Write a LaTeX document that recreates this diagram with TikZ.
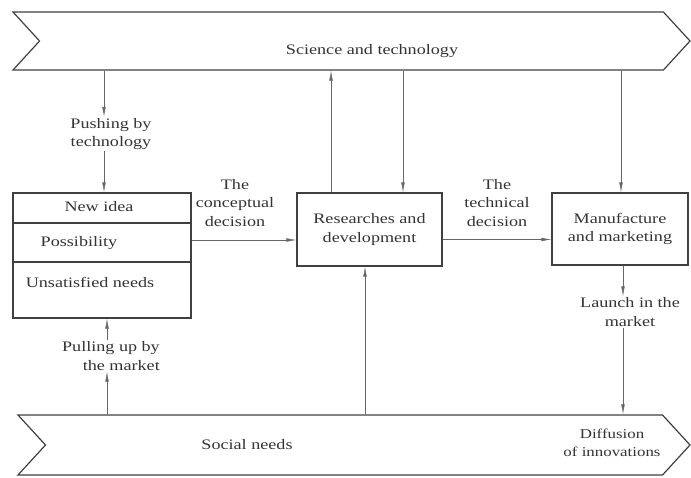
\documentclass[tikz,border=0pt]{standalone}
\usepackage{fontspec}
\setmainfont[FakeStretch=1.25]{Liberation Serif}
\usetikzlibrary{arrows.meta,shapes.symbols}

\tikzset{
  banner/.style={draw=black!75, line width=1.2pt, signal, signal from=west,
    signal to=east, signal pointer angle=95, inner sep=0pt},
  box/.style={draw=black!75, line width=1.1pt, inner sep=0pt},
  lbl/.style={text=black!80, font=\fontsize{14.5}{18.5}\selectfont,
    align=center, inner sep=1pt},
  conn/.style={draw=black!60, line width=0.6pt,
    -{Latex[length=10pt,width=3.6pt]}},
}

\begin{document}
\begin{tikzpicture}[x=1pt,y=-1pt]
    \useasboundingbox (0,0) rectangle (691,477);

    % Banners
    \node[banner, minimum width=677, minimum height=58] (sci) at (351.5,41) {};
    \node[banner, minimum width=672, minimum height=60] (soc) at (354,445) {};
    \node[lbl] (scitxt) at (372,51) {Science and technology};
    \node[lbl] (soctxt) at (247,445) {Social needs};
    \node[lbl, font=\fontsize{13.5}{18.5}\selectfont] (diff) at (612,443) {Diffusion\\of innovations};

    % Boxes
    \node[box, minimum width=178, minimum height=125] (ideas) at (102,255.5) {};
    \draw[box] (ideas.west |- 0,223) -- (ideas.east |- 0,223);
    \draw[box] (ideas.west |- 0,262) -- (ideas.east |- 0,262);
    \node[lbl] (newidea) at (99,207) {New idea};
    \node[lbl] (possib) at (79,243) {Possibility};
    \node[lbl] (unsat) at (90,282) {Unsatisfied needs};

    \node[box, lbl, draw=black!75, minimum width=145, minimum height=73] (rd)
        at (369.5,229.5) {Researches and\\development};
    \node[box, lbl, draw=black!75, minimum width=136, minimum height=72] (mfg)
        at (620,229) {Manufacture\\and marketing};

    % Labels on the arrows
    \node[lbl] (push) at (111,134) {Pushing by\\technology};
    \node[lbl, align=right, anchor=east] (pull) at (161,356) {Pulling up by\\the market};
    \node[lbl] (concept) at (235,203) {The\\conceptual\\decision};
    \node[lbl] (techdec) at (497,203) {The\\technical\\decision};
    \node[lbl] (launch) at (630,312) {Launch in the\\market};

    % Connectors
    \draw[conn] ([xshift=2pt]ideas.north |- sci.south) -- ([xshift=2pt]ideas.north |- push.north);
    \draw[conn] ([xshift=2pt]ideas.north |- push.south) -- ([xshift=2pt]ideas.north);
    \draw[conn] ([xshift=-38.5pt]rd.north) -- ([xshift=-38.5pt]rd.north |- sci.south);
    \draw[conn] ([xshift=33.5pt]rd.north |- sci.south) -- ([xshift=33.5pt]rd.north);
    \draw[conn] ([xshift=1pt]mfg.north |- sci.south) -- ([xshift=1pt]mfg.north);

    \path ([yshift=-10.5pt]rd.west) coordinate (rdin);
    \draw[conn] (ideas.east |- rdin) -- (rdin);
    \draw[conn] ([yshift=-10pt]rd.east) -- ([yshift=-10pt]rd.east -| mfg.west);

    \draw[conn] ([xshift=3pt]mfg.south) -- ([xshift=3pt]mfg.south |- launch.north);
    \draw[conn] ([xshift=3pt]mfg.south |- launch.south) -- ([xshift=3pt]mfg.south |- soc.north);
    \draw[conn] ([xshift=-4.5pt]rd.south |- soc.north) -- ([xshift=-4.5pt]rd.south);
    \draw[conn] ([xshift=5pt]ideas.south |- soc.north) -- ([xshift=5pt]ideas.south |- pull.south);
    \draw[conn] ([xshift=5pt]ideas.south |- pull.north) -- ([xshift=5pt]ideas.south);
\end{tikzpicture}
\end{document}
